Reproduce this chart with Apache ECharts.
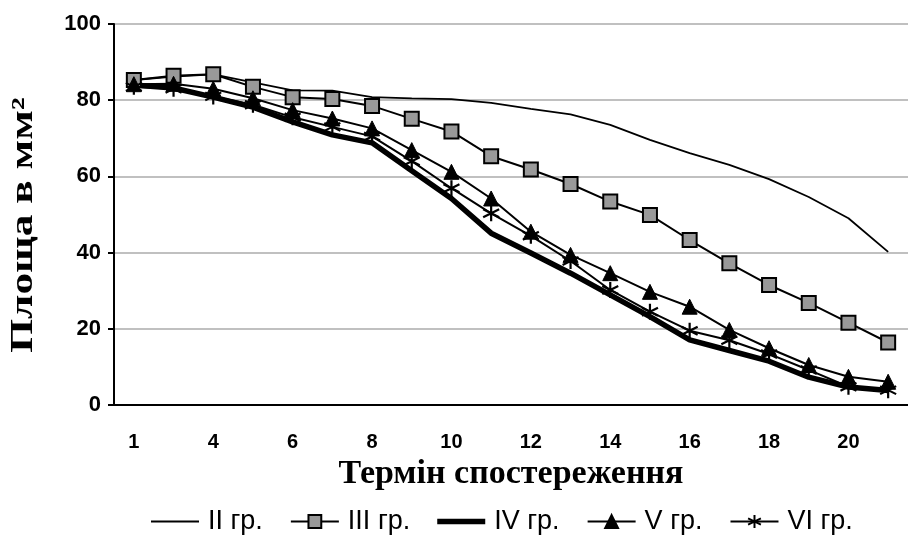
<!DOCTYPE html>
<html>
<head>
<meta charset="utf-8">
<script src="https://cdn.jsdelivr.net/npm/echarts@6/dist/echarts.min.js"></script>
<style>
  html, body { margin: 0; padding: 0; background: #fff; }
  #chart { width: 908px; height: 538px; }
</style>
</head>
<body>
<div id="chart"></div>
<script>
// дані з графіка (читання з рисунка)
var terms = ['1', '3', '4', '5', '6', '7', '8', '9', '10', '11', '12', '13', '14', '15', '16', '17', '18', '19', '20', '21'];
var grII  = [85.3, 86.2, 86.8, 84.7, 82.6, 82.5, 80.8, 80.5, 80.3, 79.3, 77.7, 76.3, 73.5, 69.6, 66.1, 63.0, 59.3, 54.6, 49.0, 40.2];
var grIII = [85.3, 86.4, 86.8, 83.5, 80.8, 80.3, 78.5, 75.1, 71.8, 65.3, 61.8, 58.0, 53.4, 49.9, 43.3, 37.2, 31.5, 26.8, 21.6, 16.4];
var grIV  = [84.0, 83.2, 80.8, 78.2, 74.3, 70.9, 68.8, 61.5, 54.2, 45.1, 39.9, 34.6, 28.9, 23.2, 17.1, 14.3, 11.5, 7.3, 4.7, 3.8];
var grV   = [84.2, 84.3, 83.0, 80.5, 77.4, 75.2, 72.6, 66.9, 61.2, 54.2, 45.5, 39.4, 34.6, 29.7, 25.8, 19.7, 14.9, 10.5, 7.4, 6.1];
var grVI  = [83.5, 83.0, 81.0, 78.8, 75.5, 73.0, 70.5, 64.0, 56.9, 50.3, 44.4, 37.8, 30.2, 24.5, 19.5, 17.0, 13.4, 9.2, 4.8, 3.9];

var names = ['II гр.', 'III гр.', 'IV гр.', 'V гр.', 'VI гр.'];

var starPath = 'path://M5,0L5,10M0.7,2.5L9.3,7.5M9.3,2.5L0.7,7.5';
// значки легенди для ліній без маркерів
var thinIcon = 'path://M0,0L0,14M0,6L48,6L48,8L0,8Z';
var thickIcon = 'path://M0,0L0,14M0,4.3L48,4.3L48,9.7L0,9.7Z';

var chart = echarts.init(document.getElementById('chart'));

var option = {
    animation: false,
    backgroundColor: '#fff',
    grid: { left: 114, top: 24, right: -8, bottom: 133 },
    legend: {
        left: 146,
        top: 503,
        itemGap: 27,
        itemWidth: 48,
        itemHeight: 16,
        textStyle: { fontFamily: 'Liberation Sans', fontSize: 27, color: '#000', padding: [0, 0, 0, 4] },
        data: [
            { name: names[0], icon: thinIcon },
            names[1],
            { name: names[2], icon: thickIcon },
            names[3],
            names[4]
        ]
    },
    graphic: [{
        type: 'text',
        x: 24,
        y: 225,
        rotation: Math.PI / 2,
        scaleX: 1.4,
        style: {
            text: 'Площа в мм²',
            font: 'bold 31px "Liberation Serif"',
            fill: '#000',
            align: 'center',
            verticalAlign: 'middle'
        }
    }],
    xAxis: {
        type: 'category',
        data: terms,
        boundaryGap: true,
        name: 'Термін спостереження',
        nameLocation: 'middle',
        nameGap: 50,
        nameTextStyle: { fontFamily: 'Liberation Serif', fontWeight: 'bold', fontSize: 34, color: '#000' },
        axisLine: { lineStyle: { color: '#000', width: 2 } },
        axisTick: { inside: true, length: 6, interval: 0, lineStyle: { color: '#000', width: 2 } },
        axisLabel: {
            interval: 1,
            margin: 27,
            fontFamily: 'Liberation Sans',
            fontWeight: 'bold',
            fontSize: 20,
            color: '#000'
        },
        splitLine: { show: false }
    },
    yAxis: {
        type: 'value',
        min: 0,
        max: 100,
        interval: 20,
        axisLine: { show: true, lineStyle: { color: '#000', width: 2 } },
        axisTick: { show: true, length: 6, lineStyle: { color: '#000', width: 2 } },
        axisLabel: {
            margin: 13,
            fontFamily: 'Liberation Sans',
            fontWeight: 'bold',
            fontSize: 22,
            color: '#000'
        },
        splitLine: { lineStyle: { color: '#c0c0c0', width: 2 } }
    },
    series: [
        {
            name: names[0], type: 'line', data: grII,
            symbol: 'none',
            lineStyle: { color: '#000', width: 1.8 },
            itemStyle: { color: '#000' }
        },
        {
            name: names[1], type: 'line', data: grIII,
            symbol: 'rect', symbolSize: 14,
            lineStyle: { color: '#000', width: 2 },
            itemStyle: { color: '#999', borderColor: '#000', borderWidth: 2 }
        },
        {
            name: names[2], type: 'line', data: grIV,
            symbol: 'none',
            lineStyle: { color: '#000', width: 5.5 },
            itemStyle: { color: '#000' }
        },
        {
            name: names[3], type: 'line', data: grV,
            symbol: 'triangle', symbolSize: 15,
            lineStyle: { color: '#000', width: 2 },
            itemStyle: { color: '#000', borderColor: '#000', borderWidth: 1 }
        },
        {
            name: names[4], type: 'line', data: grVI,
            symbol: starPath, symbolSize: 16,
            lineStyle: { color: '#000', width: 2 },
            itemStyle: { color: '#000', borderColor: '#000', borderWidth: 2.2 }
        }
    ]
};

chart.setOption(option);
</script>
</body>
</html>
